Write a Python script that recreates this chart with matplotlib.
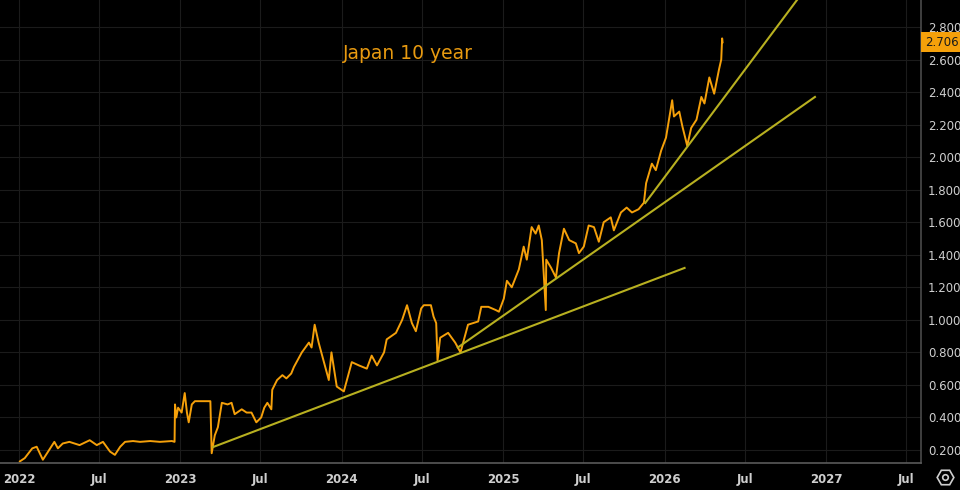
import matplotlib
matplotlib.use("Agg")
import matplotlib.pyplot as plt
from matplotlib.lines import Line2D
import pandas as pd

# Japan 10 year yield
dates = [
    "2022-01-03", "2022-01-14", "2022-01-31", "2022-02-10", "2022-02-24", "2022-03-22",
    "2022-03-30", "2022-04-10", "2022-04-25", "2022-05-18", "2022-06-10", "2022-06-26",
    "2022-07-10", "2022-07-26", "2022-08-06", "2022-08-18", "2022-08-29", "2022-09-16",
    "2022-10-02", "2022-10-25", "2022-11-16", "2022-12-13", "2022-12-19", "2022-12-20",
    "2022-12-23", "2022-12-27", "2023-01-04", "2023-01-11", "2023-01-16", "2023-01-20",
    "2023-01-27", "2023-02-03", "2023-02-18", "2023-03-08", "2023-03-10", "2023-03-13",
    "2023-03-20", "2023-03-27", "2023-04-05", "2023-04-18", "2023-04-27", "2023-05-04",
    "2023-05-20", "2023-05-31", "2023-06-11", "2023-06-22", "2023-07-03", "2023-07-10",
    "2023-07-17", "2023-07-26", "2023-07-28", "2023-08-08", "2023-08-20", "2023-08-29",
    "2023-09-09", "2023-09-15", "2023-10-03", "2023-10-19", "2023-10-25", "2023-11-01",
    "2023-11-10", "2023-11-21", "2023-12-03", "2023-12-09", "2023-12-21", "2024-01-06",
    "2024-01-17", "2024-01-24", "2024-02-09", "2024-02-27", "2024-03-09", "2024-03-21",
    "2024-04-06", "2024-04-12", "2024-05-03", "2024-05-17", "2024-05-28", "2024-06-08",
    "2024-06-17", "2024-06-29", "2024-07-05", "2024-07-21", "2024-07-27", "2024-08-02",
    "2024-08-05", "2024-08-11", "2024-08-29", "2024-09-14", "2024-09-26", "2024-10-02",
    "2024-10-13", "2024-11-05", "2024-11-12", "2024-11-28", "2024-12-15", "2024-12-22",
    "2025-01-02", "2025-01-09", "2025-01-20", "2025-02-05", "2025-02-16", "2025-02-23",
    "2025-03-06", "2025-03-15", "2025-03-22", "2025-03-29", "2025-04-07", "2025-04-08",
    "2025-04-19", "2025-04-30", "2025-05-07", "2025-05-18", "2025-05-30", "2025-06-14",
    "2025-06-21", "2025-07-02", "2025-07-13", "2025-07-25", "2025-08-05", "2025-08-16",
    "2025-09-01", "2025-09-08", "2025-09-24", "2025-10-07", "2025-10-19", "2025-11-03",
    "2025-11-15", "2025-11-20", "2025-12-03", "2025-12-12", "2025-12-24", "2026-01-04",
    "2026-01-18", "2026-01-22", "2026-02-03", "2026-02-10", "2026-02-21", "2026-03-02",
    "2026-03-14", "2026-03-25", "2026-04-01", "2026-04-12", "2026-04-23", "2026-05-04",
    "2026-05-09", "2026-05-11", "2026-05-12",
]
yields = [
    0.13, 0.15, 0.21, 0.22, 0.14, 0.25,
    0.21, 0.24, 0.25, 0.23, 0.26, 0.23,
    0.25, 0.19, 0.17, 0.22, 0.25, 0.255,
    0.25, 0.255, 0.25, 0.255, 0.25, 0.48,
    0.40, 0.46, 0.43, 0.55, 0.43, 0.37,
    0.48, 0.50, 0.50, 0.50, 0.50, 0.18,
    0.29, 0.34, 0.49, 0.48, 0.49, 0.42,
    0.45, 0.43, 0.43, 0.37, 0.40, 0.46,
    0.49, 0.45, 0.57, 0.63, 0.66, 0.64,
    0.67, 0.71, 0.80, 0.86, 0.83, 0.97,
    0.86, 0.75, 0.63, 0.80, 0.59, 0.56,
    0.67, 0.74, 0.72, 0.70, 0.78, 0.72,
    0.80, 0.88, 0.92, 1.00, 1.09, 0.98,
    0.93, 1.07, 1.09, 1.09, 1.02, 0.98,
    0.75, 0.89, 0.92, 0.86, 0.80, 0.86,
    0.97, 0.99, 1.08, 1.08, 1.06, 1.05,
    1.13, 1.24, 1.20, 1.31, 1.45, 1.37,
    1.57, 1.53, 1.58, 1.49, 1.06, 1.37,
    1.32, 1.26, 1.41, 1.56, 1.49, 1.47,
    1.41, 1.45, 1.58, 1.57, 1.48, 1.60,
    1.63, 1.55, 1.66, 1.69, 1.66, 1.68,
    1.72, 1.84, 1.96, 1.92, 2.04, 2.12,
    2.35, 2.25, 2.28, 2.19, 2.07, 2.18,
    2.23, 2.37, 2.33, 2.49, 2.39, 2.54,
    2.60, 2.73, 2.706,
]
last_value = 2.706

# trend lines: (start date, start value, end date, end value)
trend_starts = ["2023-03-16", "2024-09-20", "2025-11-18"]
trend_start_vals = [0.218, 0.83, 1.718]
trend_ends = ["2026-02-15", "2026-12-07", "2026-11-03"]
trend_end_vals = [1.319, 2.37, 2.99]

y_ticks = [0.2, 0.4, 0.6, 0.8, 1.0, 1.2, 1.4, 1.6, 1.8, 2.0, 2.2, 2.4, 2.6, 2.8]
x_ticks = ["2022-01-01", "2022-07-01", "2023-01-01", "2023-07-01", "2024-01-01",
           "2024-07-01", "2025-01-01", "2025-07-01", "2026-01-01", "2026-07-01",
           "2027-01-01", "2027-07-01"]
x_labels = ["2022", "Jul", "2023", "Jul", "2024", "Jul", "2025", "Jul", "2026", "Jul",
            "2027", "Jul"]

bg = "#000000"
price_col = "#f5a00a"
trend_col = "#b8b020"
grid_col = "#1b1b1b"
text_col = "#cfcfcf"

fig = plt.figure(figsize=(9.6, 4.9), dpi=100, facecolor=bg)
ax = fig.add_axes([0, 27 / 490, 921 / 960, 463 / 490])
ax.set_facecolor(bg)

d = pd.to_datetime(dates)
ax.plot(d, yields, color=price_col, lw=1.4)

for s, sv, e, ev in zip(trend_starts, trend_start_vals, trend_ends, trend_end_vals):
    ax.plot(pd.to_datetime([s, e]), [sv, ev], color=trend_col, lw=1.5)

ax.set_xlim(pd.Timestamp("2021-11-19"), pd.Timestamp("2027-08-04"))
ax.set_ylim(0.12, 2.966)

ax.set_yticks(y_ticks)
ax.set_yticklabels(["%.3f" % v for v in y_ticks])
ax.yaxis.tick_right()
ax.set_xticks(pd.to_datetime(x_ticks))
ax.set_xticklabels(x_labels, fontweight="bold")
ax.tick_params(axis="both", length=0, colors=text_col, labelsize=8.5)
ax.tick_params(axis="y", pad=5)
ax.tick_params(axis="x", pad=7)
ax.grid(True, color=grid_col, lw=0.8)

for side in ["top", "left"]:
    ax.spines[side].set_visible(False)
ax.spines["bottom"].set_color("#5a5a5a")
ax.spines["right"].set_color("#4a4a4a")
ax.spines["bottom"].set_linewidth(1.2)
ax.spines["right"].set_linewidth(1.2)

ax.text(0.443, 0.885, "Japan 10 year", transform=ax.transAxes, color="#e89a10",
        fontsize=13.5, ha="center", va="center")

# last price tag
ax.text(1.004, last_value, "%.3f" % last_value, transform=ax.get_yaxis_transform(),
        color="#1a1a1a", fontsize=8.5, ha="left", va="center",
        bbox=dict(boxstyle="square,pad=0.3", fc="#f5a00a", ec="none"))

# settings icon bottom right
fig.add_artist(Line2D([945 / 960], [13 / 490], marker="H", ms=12, mfc="none",
                      mec=text_col, mew=1.2, transform=fig.transFigure))
fig.add_artist(Line2D([945 / 960], [13 / 490], marker="o", ms=4, mfc="none",
                      mec=text_col, mew=1.2, transform=fig.transFigure))

fig.savefig("out.png", dpi=100, facecolor=bg)
